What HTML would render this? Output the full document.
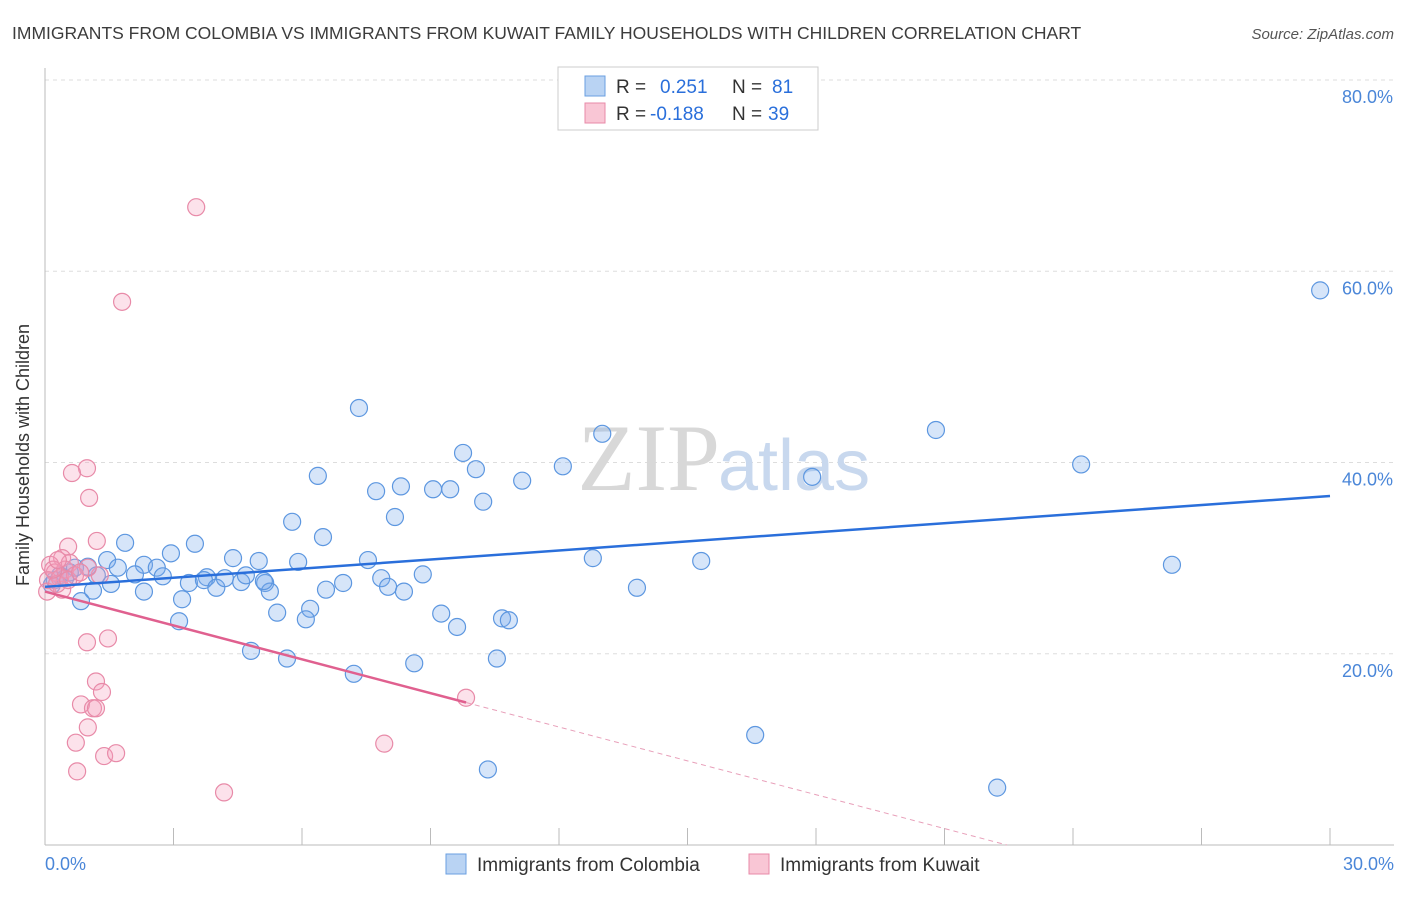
<!DOCTYPE html>
<html><head><meta charset="utf-8"><style>
body{margin:0;background:#fff;font-family:"Liberation Sans",sans-serif}
</style></head><body>
<svg id="c" width="1406" height="892" xmlns="http://www.w3.org/2000/svg" font-family="Liberation Sans, sans-serif">
<text x="12" y="39" font-size="17.5" fill="#3c3c3c">IMMIGRANTS FROM COLOMBIA VS IMMIGRANTS FROM KUWAIT FAMILY HOUSEHOLDS WITH CHILDREN CORRELATION CHART</text>
<text x="1394" y="39" font-size="15" fill="#555" font-style="italic" text-anchor="end">Source: ZipAtlas.com</text>
<g id="grid"></g>
<g id="axes"></g>
<text x="720" y="490" font-size="95" fill="#d8d8d8" text-anchor="end" font-family="Liberation Serif, serif">ZIP</text>
<text x="718" y="490" font-size="72" fill="#c8d8ee">atlas</text>
<g id="pts"></g>
<g id="trend"></g>
<text x="29" y="455" font-size="18" fill="#333" text-anchor="middle" transform="rotate(-90 29 455)">Family Households with Children</text>
<g>
<rect x="558" y="67" width="260" height="63" fill="#fff" stroke="#ccc"/>
<rect x="585" y="76" width="20" height="20" fill="#b9d3f3" stroke="#6a9fe0"/>
<rect x="585" y="103" width="20" height="20" fill="#f9c6d5" stroke="#e88aa8"/>
<text x="616" y="93" font-size="19" fill="#333">R = <tspan fill="#2a6fdb" x="660">0.251</tspan><tspan x="732" fill="#333">N =</tspan><tspan x="772" fill="#2a6fdb">81</tspan></text>
<text x="616" y="120" font-size="19" fill="#333">R = <tspan fill="#2a6fdb" x="650">-0.188</tspan><tspan x="732" fill="#333">N =</tspan><tspan x="768" fill="#2a6fdb">39</tspan></text>
</g>
<g>
<rect x="446" y="854" width="20" height="20" fill="#b9d3f3" stroke="#6a9fe0"/>
<text x="477" y="871" font-size="19" fill="#333">Immigrants from Colombia</text>
<rect x="749" y="854" width="20" height="20" fill="#f9c6d5" stroke="#e88aa8"/>
<text x="780" y="871" font-size="19" fill="#333">Immigrants from Kuwait</text>
</g>
</svg>
<script>
const yTicks=[20,40,60,80];
const yTickLabels=["20.0%","40.0%","60.0%","80.0%"];
const xTickCount=10;
const colombiaX=[29.77,20.8,24.19,17.91,26.31,15.32,13.82,12.79,12.09,13.01,11.14,9.76,10.06,10.23,7.33,7.73,8.31,9.06,9.46,8.17,6.37,5.77,6.49,7.54,7.85,8.01,8.38,8.82,6.96,6.56,5.91,4.99,4.39,5.14,5.25,5.42,6.19,6.09,9.25,9.62,10.67,10.83,10.55,8.62,7.21,5.65,4.81,16.58,10.34,22.23,3.5,2.94,1.87,1.45,1.7,2.31,2.61,2.1,2.75,1.54,1.21,1.12,0.84,2.31,3.2,3.13,3.36,3.78,3.71,4.0,4.2,4.58,4.69,5.11,0.35,0.58,0.23,0.7,1.0,0.16,0.47];
const colombiaY=[58.0,43.4,39.8,38.5,29.3,29.7,26.9,30.0,39.6,43.0,38.1,41.0,39.3,35.9,45.7,37.0,37.5,37.2,37.2,34.3,38.6,33.8,32.2,29.8,27.9,27.0,26.5,28.3,27.4,26.7,29.6,29.7,30.0,27.4,26.5,24.3,24.7,23.6,24.2,22.8,23.7,23.5,19.5,19.0,17.9,19.5,20.3,11.5,7.9,6.0,31.5,30.5,31.6,29.8,29.0,29.3,29.0,28.3,28.1,27.3,28.2,26.6,25.5,26.5,25.7,23.4,27.4,28.0,27.7,26.9,27.9,27.5,28.2,27.6,28.2,28.5,27.7,29.0,29.1,27.2,27.9];
const kuwaitX=[3.53,1.8,0.98,0.63,1.03,1.21,0.54,0.4,1.47,0.98,1.19,1.33,0.84,1.12,1.19,1.0,0.72,0.75,1.38,1.66,4.18,9.83,7.92,1.28,1.0,0.12,0.23,0.07,0.05,0.35,0.47,0.58,0.4,0.7,0.28,0.19,0.54,0.82,0.3];
const kuwaitY=[66.7,56.8,39.4,38.9,36.3,31.8,31.2,30.0,21.6,21.2,17.1,16.0,14.7,14.3,14.3,12.3,10.7,7.7,9.3,9.6,5.5,15.4,10.6,28.2,29.0,29.3,28.5,27.7,26.5,27.9,28.8,29.5,26.7,28.2,27.3,28.8,27.7,28.5,29.8];
const colombiaTrend=[27.0,36.5]; // values at x=0 and x=30
const kuwaitTrend=[26.5,-1.18]; // intercept, slope per %
const kuwaitSolidEnd=9.83;
const NS="http://www.w3.org/2000/svg";
const X=v=>45+v/30*1285, Y=v=>845-v*9.5625;
function mk(t,a,p){const e=document.createElementNS(NS,t);for(const k in a)e.setAttribute(k,a[k]);p.appendChild(e);return e;}
const grid=document.getElementById('grid'),axes=document.getElementById('axes'),pts=document.getElementById('pts'),tr=document.getElementById('trend');
yTicks.forEach((t,i)=>{
 const l=mk('line',{x1:45,x2:1394,y1:Y(t),y2:Y(t),stroke:'#ddd','stroke-dasharray':'4,4'},grid);
 
 
 const tx=mk('text',{x:1393,y:Y(t)+23,'font-size':18,fill:'#4a86d8','text-anchor':'end'},axes);
 tx.textContent=yTickLabels[i];
 
 
});
mk('line',{x1:45,x2:45,y1:68,y2:845,stroke:'#bbb'},axes);
mk('line',{x1:45,x2:1394,y1:845,y2:845,stroke:'#bbb'},axes);
for(let i=0;i<=xTickCount;i++){const l=mk('line',{x1:X(i*3),x2:X(i*3),y1:828,y2:845,stroke:'#bbb'},axes);
 
 }
const x0=mk('text',{x:45,y:870,'font-size':18,fill:'#4a86d8'},axes);x0.textContent='0.0%';


const x1=mk('text',{x:1394,y:870,'font-size':18,fill:'#4a86d8','text-anchor':'end'},axes);x1.textContent='30.0%';


colombiaX.forEach((v,i)=>{const c=mk('circle',{cx:X(v),cy:Y(colombiaY[i]),r:8.5,fill:'rgba(120,170,235,0.3)',stroke:'#5d97e0','stroke-width':1.2},pts);
 
 });
kuwaitX.forEach((v,i)=>{const c=mk('circle',{cx:X(v),cy:Y(kuwaitY[i]),r:8.5,fill:'rgba(245,160,190,0.3)',stroke:'#e88aa8','stroke-width':1.2},pts);
 
 });
const bl=mk('line',{x1:X(0),y1:Y(colombiaTrend[0]),x2:X(30),y2:Y(colombiaTrend[1]),stroke:'#2a6fdb','stroke-width':2.5},tr);


const kz=-kuwaitTrend[0]/kuwaitTrend[1];
const pl=mk('line',{x1:X(0),y1:Y(kuwaitTrend[0]),x2:X(kuwaitSolidEnd),y2:Y(kuwaitTrend[0]+kuwaitTrend[1]*kuwaitSolidEnd),stroke:'#e0608f','stroke-width':2.5},tr);


const pd=mk('line',{x1:X(kuwaitSolidEnd),y1:Y(kuwaitTrend[0]+kuwaitTrend[1]*kuwaitSolidEnd),x2:X(kz),y2:Y(0),stroke:'#e8a0ba','stroke-width':1,'stroke-dasharray':'5,4'},tr);


</script>
</body></html>
